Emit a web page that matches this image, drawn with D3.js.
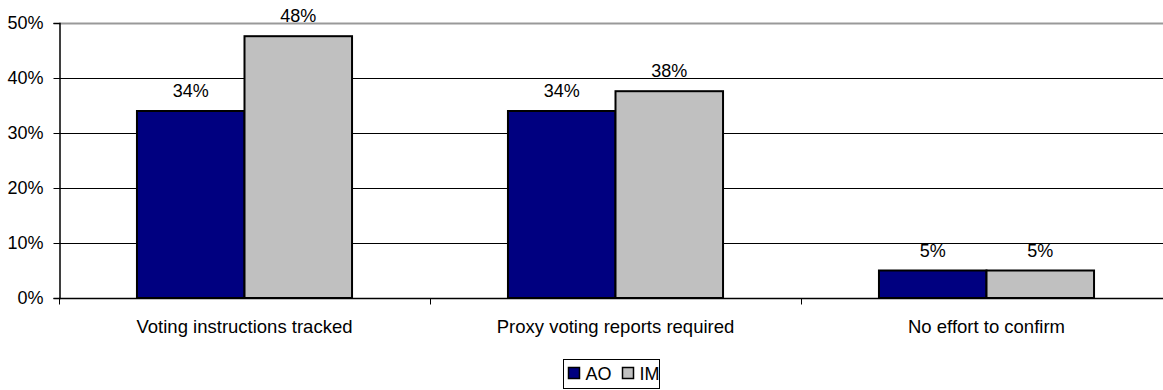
<!DOCTYPE html>
<html>
<head>
<meta charset="utf-8">
<script src="https://cdn.jsdelivr.net/npm/d3@7"></script>
<style>
  body { margin: 0; background: #fff; }
  svg { display: block; font-family: Arial, "Liberation Sans", sans-serif; }
</style>
</head>
<body>
<svg id="chart" width="1163" height="390"></svg>
<script>
// datos
const categories = ['Voting instructions tracked', 'Proxy voting reports required', 'No effort to confirm'];
const seriesNames = ['AO', 'IM'];
const aoValues = [34, 34, 5];
const imValues = [47.6, 37.6, 5];
const yTicks = [0, 10, 20, 30, 40, 50];
const colors = { AO: '#000080', IM: '#C0C0C0' };

const W = 1163, H = 390;
const m = { left: 59, right: -9, top: 23, bottom: 92 };
const FS = '18px';
const svg = d3.select('#chart');

const x = d3.scaleBand().domain(categories).range([m.left, W - m.right]).paddingInner(0).paddingOuter(0);
const xs = d3.scaleBand().domain(seriesNames).range([0, x.bandwidth()]).paddingInner(0).paddingOuter(0.725);
const y = d3.scaleLinear().domain([0, 50]).range([H - m.bottom, m.top]);

// grilla
svg.append('g').selectAll('line').data(yTicks.filter(d => d > 0)).join('line')
  .attr('x1', m.left).attr('x2', W)
  .attr('y1', d => Math.round(y(d)) + 0.5).attr('y2', d => Math.round(y(d)) + 0.5)
  .attr('stroke', d => d === 50 ? '#999' : '#000')
  .attr('stroke-width', d => d === 50 ? 2 : 1);

// barras
const rows = categories.map((c, i) => ({ cat: c, vals: [
  { key: 'AO', v: aoValues[i] }, { key: 'IM', v: imValues[i] }] }));
const grp = svg.append('g').selectAll('g').data(rows).join('g')
  .attr('transform', d => `translate(${x(d.cat)},0)`);
grp.selectAll('rect').data(d => d.vals).join('rect')
  .attr('x', d => xs(d.key)).attr('width', xs.bandwidth())
  .attr('y', d => y(d.v)).attr('height', d => y(0) - y(d.v))
  .attr('fill', d => colors[d.key])
  .attr('stroke', '#000').attr('stroke-width', 2);
grp.selectAll('text').data(d => d.vals).join('text')
  .attr('x', d => xs(d.key) + xs.bandwidth() / 2)
  .attr('y', d => y(d.v) - 14)
  .attr('text-anchor', 'middle')
  .style('font-size', FS).attr('fill', '#000')
  .text(d => Math.round(d.v) + '%');

// eje y
const yAxis = svg.append('g').attr('transform', `translate(${m.left + 0.5},0)`)
  .call(d3.axisLeft(y).tickValues(yTicks).tickSize(6).tickPadding(10).tickFormat(d => d + '%'));
yAxis.select('.domain').attr('stroke', '#000').attr('stroke-width', 1.5);
yAxis.selectAll('.tick line').attr('stroke', '#000');
yAxis.selectAll('text').style('font-size', FS).style('font-family', 'Arial, "Liberation Sans", sans-serif').attr('fill', '#000');

// eje x
const xb = svg.append('g').attr('transform', `translate(0,${Math.round(y(0)) + 0.5})`);
xb.append('line').attr('x1', m.left).attr('x2', W).attr('stroke', '#000').attr('stroke-width', 1.5);
xb.selectAll('line.tk').data(d3.range(categories.length + 1)).join('line').attr('class', 'tk')
  .attr('x1', i => Math.round(m.left + i * x.bandwidth()) + 0.5)
  .attr('x2', i => Math.round(m.left + i * x.bandwidth()) + 0.5)
  .attr('y1', 0).attr('y2', 6).attr('stroke', '#000');
xb.selectAll('text').data(categories).join('text')
  .attr('x', d => x(d) + x.bandwidth() / 2).attr('y', 34)
  .attr('text-anchor', 'middle').style('font-size', '18.5px').attr('fill', '#000')
  .text(d => d);

// leyenda
const lg = svg.append('g').attr('transform', 'translate(563.5,359.5)');
lg.append('rect').attr('width', 96).attr('height', 29).attr('fill', '#fff').attr('stroke', '#000');
seriesNames.forEach((s, i) => {
  const ox = 5 + i * 54;
  lg.append('rect').attr('x', ox).attr('y', 8).attr('width', 11).attr('height', 11)
    .attr('fill', colors[s]).attr('stroke', '#000').attr('stroke-width', 1.5);
  lg.append('text').attr('x', ox + 17).attr('y', 20).style('font-size', FS).attr('fill', '#000').text(s);
});
</script>
</body>
</html>
